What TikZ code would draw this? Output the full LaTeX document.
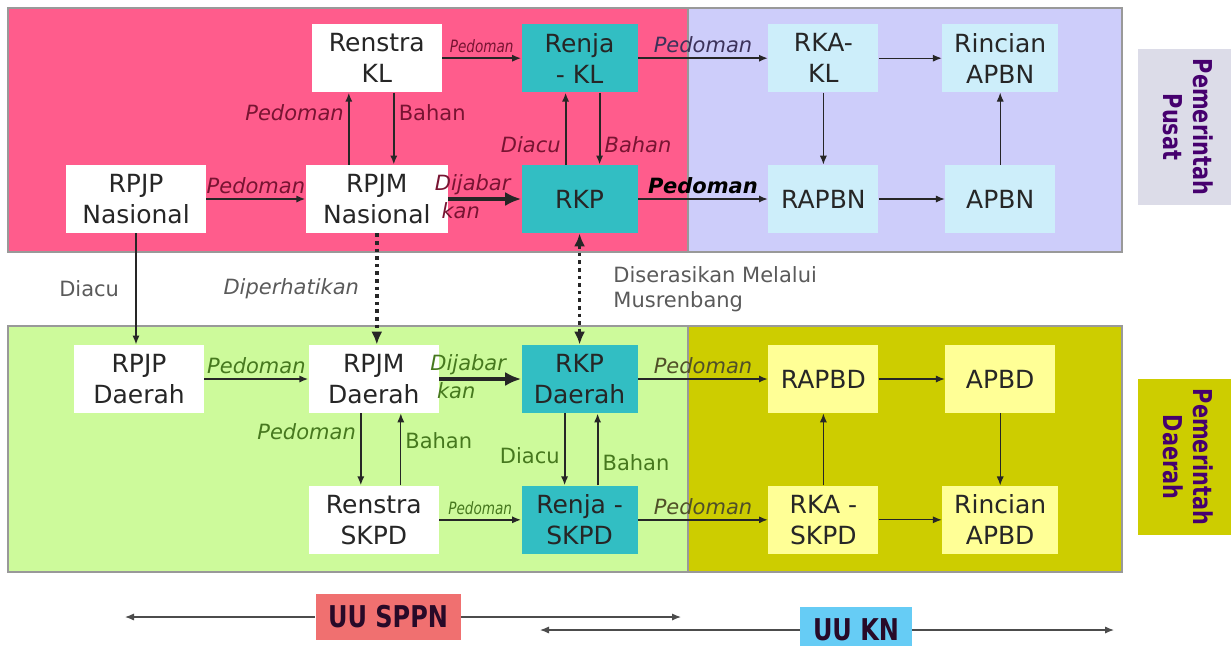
\documentclass[tikz,border=0pt]{standalone}
\usepackage{fontspec}
\setmainfont{DejaVu Sans}
\newfontfamily\narrowfont{DejaVu Sans}[FakeStretch=0.8]
\usetikzlibrary{positioning,arrows.meta}

\definecolor{pinkzone}{RGB}{255,92,140}
\definecolor{lavzone}{RGB}{205,205,250}
\definecolor{limezone}{RGB}{205,250,155}
\definecolor{olivezone}{RGB}{205,205,0}
\definecolor{tealbox}{RGB}{50,190,195}
\definecolor{bluebox}{RGB}{205,238,250}
\definecolor{yellowbox}{RGB}{255,255,150}
\definecolor{pusatgray}{RGB}{220,220,232}
\definecolor{sidetext}{RGB}{70,0,110}
\definecolor{pinktext}{RGB}{120,20,50}
\definecolor{lavtext}{RGB}{60,50,90}
\definecolor{greentext}{RGB}{70,120,30}
\definecolor{olivetext}{RGB}{80,80,40}
\definecolor{graytext}{RGB}{90,90,90}
\definecolor{sppnred}{RGB}{240,112,112}
\definecolor{knblue}{RGB}{102,204,245}
\definecolor{lawtext}{RGB}{40,10,40}

\begin{document}
\begin{tikzpicture}
		[x=0.5pt,y=-0.5pt,>={Latex[length=4.5pt,width=3.6pt]},
		docbox/.style={rectangle,fill=white,text=black!85,inner sep=2pt,minimum width=65pt,minimum height=34pt,align=center,font=\fontsize{12.5}{15.5}\selectfont},
		planbox/.style={docbox,fill=tealbox,minimum width=58pt},
		apbnbox/.style={docbox,fill=bluebox,minimum width=55pt},
		apbdbox/.style={docbox,fill=yellowbox,minimum width=55pt},
		sidebox/.style={rectangle,rotate=-90,minimum width=78pt,minimum height=50pt,inner sep=2pt,align=center,text=sidetext,font=\narrowfont\bfseries\fontsize{13}{15}\selectfont},
		lawbox/.style={rectangle,minimum height=23pt,inner sep=4pt,text=lawtext,font=\narrowfont\bfseries\fontsize{15}{17}\selectfont},
		zone/.style={draw=black!40,line width=0.6pt},
		link/.style={->,line width=1pt,draw=black!85},
		thinlink/.style={->,line width=0.6pt,draw=black!85},
		boldlink/.style={-{Latex[length=8pt,width=7pt]},line width=1.8pt,draw=black!85},
		dotlink/.style={-{Latex[length=6.5pt,width=5.5pt]},dotted,line width=1.8pt,draw=black!85},
		lawline/.style={->,line width=0.6pt,draw=black!70},
		note/.style={inner sep=2pt,font=\fontsize{10.5}{12.5}\selectfont},
		itnote/.style={inner sep=2pt,font=\fontsize{10.5}{12.5}\selectfont\itshape},
		smallnote/.style={inner sep=2pt,font=\narrowfont\fontsize{8.5}{10}\selectfont\itshape}]
		\useasboundingbox (0,0) rectangle (1231,645);

		\filldraw [zone,fill=pinkzone] (8,8) rectangle (688,252);
		\filldraw [zone,fill=lavzone] (688,8) rectangle (1122,252);
		\filldraw [zone,fill=limezone] (8,326) rectangle (688,572);
		\filldraw [zone,fill=olivezone] (688,326) rectangle (1122,572);

		\node [docbox,minimum width=70pt] (rpjpnas) at (136,199) {RPJP\\Nasional};
		\node [docbox,minimum width=71pt] (rpjmnas) [right=49.5pt of rpjpnas] {RPJM\\Nasional};
		\node [planbox] (rkp) [right=36.5pt of rpjmnas] {RKP};
		\node [apbnbox] (rapbn) [right=65pt of rkp] {RAPBN};
		\node [apbnbox] (apbn) [right=33pt of rapbn] {APBN};

		\node [docbox] (renstrakl) [above=36pt of rpjmnas] {Renstra\\KL};
		\node [planbox] (renjakl) [above=36pt of rkp] {Renja\\- KL};
		\node [apbnbox] (rkakl) [above=36pt of rapbn] {RKA-\\KL};
		\node [apbnbox,minimum width=58pt] (rincianapbn) [above=36pt of apbn] {Rincian\\APBN};

		\node [docbox] (rpjpdaerah) at (139,379) {RPJP\\Daerah};
		\node [docbox] (rpjmdaerah) [right=52pt of rpjpdaerah] {RPJM\\Daerah};
		\node [planbox] (rkpdaerah) [right=41pt of rpjmdaerah] {RKP\\Daerah};
		\node [apbdbox] (rapbd) [right=65pt of rkpdaerah] {RAPBD};
		\node [apbdbox] (apbd) [right=33pt of rapbd] {APBD};

		\node [docbox] (renstraskpd) [below=36pt of rpjmdaerah] {Renstra\\SKPD};
		\node [planbox] (renjaskpd) [below=36pt of rkpdaerah] {Renja -\\SKPD};
		\node [apbdbox] (rkaskpd) [below=36pt of rapbd] {RKA -\\SKPD};
		\node [apbdbox,minimum width=58pt] (rincianapbd) [below=36pt of apbd] {Rincian\\APBD};

		\node [sidebox,fill=pusatgray] (pusat) at (1188,127) {Pemerintah\\Pusat};
		\node [sidebox,fill=olivezone] (daerah) at (1188,457) {Pemerintah\\Daerah};

		\draw [link] (renstrakl) -- (renjakl) node [midway,above,smallnote,text=pinktext] {Pedoman};
		\draw [link] (renjakl) -- (rkakl) node [midway,above,itnote,text=lavtext] {Pedoman};
		\draw [thinlink] (rkakl) -- (rincianapbn);
		\draw [thinlink] (rkakl) -- (rapbn);
		\draw [thinlink] (rapbn) -- (apbn);
		\draw [thinlink] (apbn) -- (rincianapbn);
		\draw [link] (rpjpnas) -- (rpjmnas) node [midway,above,itnote,text=pinktext] {Pedoman};
		\draw [link] ([xshift=-14pt]rpjmnas.north) -- ([xshift=-14pt]renstrakl.south) node [pos=0.72,left,itnote,text=pinktext] {Pedoman};
		\draw [link] ([xshift=8.5pt]renstrakl.south) -- ([xshift=8.5pt]rpjmnas.north) node [pos=0.28,right,note,text=pinktext] {Bahan};
		\draw [boldlink] (rpjmnas) -- (rkp) node [midway,above,xshift=-6pt,itnote,inner sep=1pt,text=pinktext] {Dijabar} node [midway,below,xshift=-12pt,itnote,inner sep=1pt,text=pinktext] {kan};
		\draw [link] ([xshift=-7pt]rkp.north) -- ([xshift=-7pt]renjakl.south) node [pos=0.28,left,itnote,text=pinktext] {Diacu};
		\draw [link] ([xshift=10pt]renjakl.south) -- ([xshift=10pt]rkp.north) node [pos=0.72,right,itnote,text=pinktext] {Bahan};
		\draw [link] (rkp) -- (rapbn) node [midway,above,itnote,font=\fontsize{10.5}{12.5}\selectfont\bfseries\itshape,text=black] {Pedoman};

		\draw [link] (rpjpnas.south) -- (rpjpnas.south |- rpjpdaerah.north) node [midway,left=6pt,note,text=graytext] {Diacu};
		\draw [dotlink] (rpjmnas.south) -- (rpjmnas.south |- rpjmdaerah.north) node [midway,left=6pt,itnote,text=graytext] {Diperhatikan};
		\draw [dotlink,{Latex[length=6.5pt,width=5.5pt]}-{Latex[length=6.5pt,width=5.5pt]}] (rkp) -- (rkpdaerah) node [midway,right=14pt,note,align=left,text=graytext] {Diserasikan Melalui\\Musrenbang};

		\draw [link] (rpjpdaerah) -- (rpjmdaerah) node [midway,above,itnote,text=greentext] {Pedoman};
		\draw [boldlink] (rpjmdaerah) -- (rkpdaerah) node [midway,above,xshift=-6pt,itnote,inner sep=1pt,text=greentext] {Dijabar} node [midway,below,xshift=-12pt,itnote,inner sep=1pt,text=greentext] {kan};
		\draw [link] (rkpdaerah) -- (rapbd) node [midway,above,itnote,text=olivetext] {Pedoman};
		\draw [link] ([xshift=-6.5pt]rpjmdaerah.south) -- ([xshift=-6.5pt]renstraskpd.north) node [pos=0.26,left,itnote,text=greentext] {Pedoman};
		\draw [thinlink] ([xshift=13.5pt]renstraskpd.north) -- ([xshift=13.5pt]rpjmdaerah.south) node [pos=0.62,right,note,text=greentext] {Bahan};
		\draw [link] ([xshift=-7.5pt]rkpdaerah.south) -- ([xshift=-7.5pt]renjaskpd.north) node [pos=0.58,left,note,text=greentext] {Diacu};
		\draw [link] ([xshift=9pt]renjaskpd.north) -- ([xshift=9pt]rkpdaerah.south) node [pos=0.32,right,note,text=greentext] {Bahan};
		\draw [link] (renstraskpd) -- (renjaskpd) node [midway,above,smallnote,text=greentext] {Pedoman};
		\draw [link] (renjaskpd) -- (rkaskpd) node [midway,above,itnote,text=olivetext] {Pedoman};
		\draw [thinlink] (rkaskpd) -- (rapbd);
		\draw [thinlink] (rapbd) -- (apbd);
		\draw [thinlink] (apbd) -- (rincianapbd);
		\draw [thinlink] (rkaskpd) -- (rincianapbd);

		\coordinate (sppnleft) at (125,617);
		\coordinate (sppnright) at (681,617);
		\coordinate (knleft) at (540,630);
		\coordinate (knright) at (1114,630);
		\node [lawbox,fill=sppnred,minimum width=72.5pt] (sppn) at (388,617) {UU SPPN};
		\node [lawbox,fill=knblue,minimum width=56pt] (kn) at (856,630) {UU KN};
		\draw [lawline] (sppn) -- (sppnleft);
		\draw [lawline] (sppn) -- (sppnright);
		\draw [lawline] (kn) -- (knleft);
		\draw [lawline] (kn) -- (knright);

	\end{tikzpicture}
\end{document}
